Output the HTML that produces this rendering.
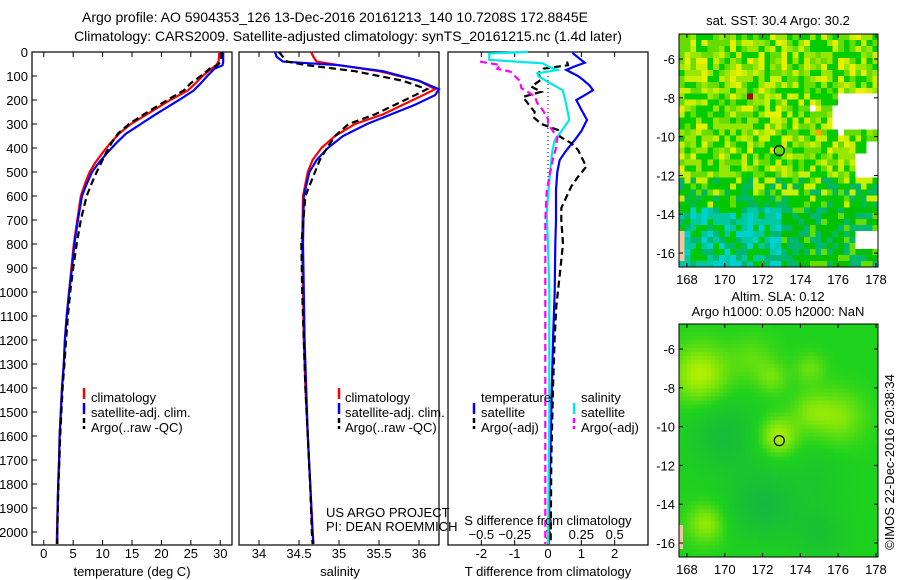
<!DOCTYPE html>
<html><head><meta charset="utf-8">
<style>
html,body{margin:0;padding:0;background:#fff;}
body{width:900px;height:580px;position:relative;overflow:hidden;font-family:"Liberation Sans",Arial,sans-serif;}
canvas{position:absolute;image-rendering:pixelated;}
svg{position:absolute;left:0;top:0;}
text{font-family:"Liberation Sans",Arial,sans-serif;fill:#000;}
</style></head>
<body>
<canvas id="map1" width="35" height="39" style="left:679px;top:34px;width:199px;height:233px"></canvas>
<canvas id="map2" width="50" height="58" style="left:679px;top:324px;width:199px;height:233px"></canvas>
<svg id="chart" width="900" height="580" xmlns="http://www.w3.org/2000/svg"></svg>
<script>
// ---- temperature profile data ----
const tDepth = [0,20,40,55,70,100,130,160,200,230,260,300,340,380,420,460,500,550,600,700,800,900,1000,1100,1200,1300,1400,1500,1600,1700,1800,1900,2000,2050];
const tClim  = [29.8,29.8,29.7,29.3,28.5,27.0,25.8,24.5,21.5,19.5,17.5,14.8,12.8,11.3,10.0,8.8,7.8,7.0,6.3,5.7,5.1,4.7,4.3,3.9,3.6,3.4,3.1,2.9,2.7,2.6,2.45,2.35,2.25,2.2];
const tSat   = [30.5,30.5,30.5,30.4,29.0,27.8,26.7,25.5,23.0,21.0,19.0,16.5,14.0,12.3,10.8,9.4,8.2,7.3,6.5,5.8,5.2,4.8,4.3,3.9,3.6,3.4,3.1,2.9,2.7,2.6,2.45,2.35,2.3,2.3];
const tArgo  = [30.2,30.2,30.1,29.5,28.2,26.7,25.0,23.8,21.0,19.0,17.0,14.5,12.6,11.5,10.6,9.8,9.0,8.1,7.3,6.3,5.6,5.0,4.5,4.1,3.8,3.5,3.2,3.0,2.8,2.65,2.5,2.4,2.3,2.3];
// ---- salinity profile data ----
const sDepth = [0,20,40,55,80,120,155,180,220,260,300,350,400,450,500,600,800,1000,1200,1400,1600,1800,2000,2050];
const sClim  = [34.65,34.68,34.72,35.0,35.5,36.0,36.2,36.05,35.8,35.55,35.2,34.95,34.78,34.67,34.61,34.55,34.54,34.55,34.56,34.58,34.61,34.64,34.67,34.68];
const sSat   = [34.2,34.22,34.3,35.0,35.55,36.0,36.25,36.2,35.95,35.65,35.35,35.05,34.86,34.72,34.63,34.56,34.55,34.56,34.57,34.59,34.61,34.64,34.67,34.68];
const sArgo  = [34.25,34.3,34.35,34.6,35.2,35.8,36.1,35.95,35.7,35.45,35.12,34.95,34.85,34.76,34.7,34.58,34.53,34.54,34.56,34.58,34.61,34.64,34.66,34.67];
// ---- difference panel data ----
const dTSatDepth = [0,6,45,60,75,100,116,140,159,180,200,240,283,330,367,410,450,500,575,700,800,1000,1200,1500,1800,2050];
const dTSat      = [0.75,0.75,1.1,0.8,0.55,0.9,1.05,1.25,1.35,1.1,0.85,1.0,1.17,1.0,0.8,0.55,0.35,0.28,0.24,0.24,0.22,0.2,0.15,0.1,0.05,0.02];
const dSSatDepth = [0,6,20,33,47,60,75,89,102,125,159,200,283,330,367,420,505,600,672,800,1000,1500,2050];
const dSSat      = [-0.15,-0.44,-0.44,-0.44,-0.04,0.0,0.07,-0.08,-0.07,0.0,0.11,0.13,0.16,0.1,0.05,0.03,0.015,0.0,-0.01,0.0,0.01,0.01,0.0];
const dTArgoDepth = [40,55,69,89,115,144,166,187,215,250,270,300,325,352,380,408,450,478,520,560,620,650,700,800,930,1060,1190,1400,1700,2050];
const dTArgo      = [0.57,0.6,-0.13,-0.3,-0.2,-0.5,-0.2,-0.75,-0.6,-0.4,-0.45,-0.2,0.3,0.35,0.7,0.9,1.05,1.15,0.9,0.7,0.5,0.4,0.4,0.45,0.35,0.25,0.2,0.15,0.1,0.08];
const dSArgoDepth = [40,54,70,82,100,121,150,184,213,242,280,300,340,357,400,440,506,580,700,900,1200,1600,2050];
const dSArgo      = [-0.51,-0.36,-0.38,-0.28,-0.25,-0.21,-0.2,-0.1,-0.08,-0.04,0,0.0,0.05,0.07,0.06,0.04,0.015,-0.01,-0.02,-0.02,-0.02,-0.02,-0.02];
// ---- tick labels ----
const depthTicks = [0,100,200,300,400,500,600,700,800,900,1000,1100,1200,1300,1400,1500,1600,1700,1800,1900,2000];
const tempTicks = [0,5,10,15,20,25,30];
const salTicks = [34,34.5,35,35.5,36];
const tDiffTicks = [-2,-1,0,1,2];
const sDiffTicks = [-0.5,-0.25,0,0.25,0.5];
const lonTicks = [168,170,172,174,176,178];
const latTicks = [-6,-8,-10,-12,-14,-16];
const argoLon = 172.8845, argoLat = -10.7208;

const NS = "http://www.w3.org/2000/svg";
const svg = document.getElementById('chart');
function mk(tag, attrs, parent){
  const e = document.createElementNS(NS, tag);
  for (const k in attrs) e.setAttribute(k, attrs[k]);
  (parent||svg).appendChild(e);
  return e;
}
function txt(x,y,s,anchor,size){
  const t = mk('text',{x:x,y:y,'text-anchor':anchor||'start','font-size':size||13});
  t.textContent = s;
  return t;
}
const TOP=52, BOT=545;
const yD = d => TOP + d*0.24;
const xT = t => 32 + (t+2)*200/34;
const xS = s => 239 + (s-33.75)*80;
const xD = v => 448 + (v+3)*200/6;
const xDS = s => xD(s*4);
const mLon = lon => 679 + (lon-167.58)*18.9;
const mLat1 = lat => 34 + (-4.71-lat)*19.4;
const mLat2 = lat => 324 + (-4.71-lat)*19.4;

function poly(xs, ds, fx, color, dash, name){
  const pts = xs.map((v,i)=> fx(v).toFixed(1)+','+yD(ds[i]).toFixed(1)).join(' ');
  const p = mk('polyline',{points:pts,fill:'none',stroke:color,'stroke-width':2.2});
  if (dash) p.setAttribute('stroke-dasharray', dash);
  
  
  return p;
}
function box(x0,x1,name){
  const r = mk('rect',{x:x0,y:TOP,width:x1-x0,height:BOT-TOP,fill:'none',stroke:'#000','stroke-width':1.2});
  
  
}
function xticks(vals, fx, labels, ly){
  vals.forEach((v,i)=>{
    const x = fx(v);
    mk('line',{x1:x,x2:x,y1:TOP,y2:TOP+5,stroke:'#000'});
    mk('line',{x1:x,x2:x,y1:BOT,y2:BOT-5,stroke:'#000'});
    if (labels){
      const t = txt(x, ly, labels[i], 'middle');
      
      
    }
  });
}
function legendBar(x,y,color,dash){
  const l = mk('line',{x1:x,x2:x,y1:y-10,y2:y+1,stroke:color,'stroke-width':2.5});
  if (dash) l.setAttribute('stroke-dasharray','5,3');
  
  
}

let t1 = txt(335,22,'Argo profile: AO 5904353_126 13-Dec-2016 20161213_140 10.7208S 172.8845E','middle',14);


let t2 = txt(348,41,'Climatology: CARS2009. Satellite-adjusted climatology: synTS_20161215.nc (1.4d later)','middle',14);



// ---- panel 1: temperature ----
box(32,232,'temperature-panel');
depthTicks.forEach(d=>{
  mk('line',{x1:32,x2:37,y1:yD(d),y2:yD(d),stroke:'#000'});
  const t = txt(28, yD(d)+5, String(d), 'end');
  
  
});
xticks(tempTicks, xT, tempTicks.map(String), 558);
poly(tClim, tDepth, xT, '#ff0000', null, 'temp-climatology-line');
poly(tSat, tDepth, xT, '#0000ff', null, 'temp-satellite-line');
poly(tArgo, tDepth, xT, '#000000', '7,4', 'temp-argo-line');
let xl1 = txt(132,576,'temperature (deg C)','middle',13);


legendBar(84,398,'#ff0000'); txt(91,402,'climatology');
legendBar(84,413,'#0000ff'); txt(91,417,'satellite-adj. clim.');
legendBar(84,428,'#000',1); txt(91,432,'Argo(..raw -QC)');

// ---- panel 2: salinity ----
box(239,439,'salinity-panel');
xticks(salTicks, xS, salTicks.map(String), 558);
poly(sClim, sDepth, xS, '#ff0000', null, 'sal-climatology-line');
poly(sSat, sDepth, xS, '#0000ff', null, 'sal-satellite-line');
poly(sArgo, sDepth, xS, '#000000', '7,4', 'sal-argo-line');
let xl2 = txt(340,576,'salinity','middle',13);


legendBar(339,398,'#ff0000'); txt(345,402,'climatology');
legendBar(339,413,'#0000ff'); txt(345,417,'satellite-adj. clim.');
legendBar(339,428,'#000',1); txt(345,432,'Argo(..raw -QC)');
let cr1 = txt(326,517,'US ARGO PROJECT');  
let cr2 = txt(326,531,'PI: DEAN ROEMMICH');  

// ---- panel 3: differences ----
box(448,648,'difference-panel');
xticks(tDiffTicks, xD, tDiffTicks.map(String), 558);
sDiffTicks.forEach(s=>{
  const t = txt(xDS(s), 539, String(s).replace('-','\u2212'), 'middle');
  
  
});
mk('line',{x1:xD(0),x2:xD(0),y1:yD(100),y2:yD(650),stroke:'#000','stroke-dasharray':'1,3'});
poly(dTSat, dTSatDepth, xD, '#0000ff', null, 'tdiff-satellite-line');
poly(dTArgo, dTArgoDepth, xD, '#000000', '7,4', 'tdiff-argo-line');
poly(dSSat, dSSatDepth, xDS, '#00e8e8', null, 'sdiff-satellite-line');
poly(dSArgo, dSArgoDepth, xDS, '#ff00ff', '7,4', 'sdiff-argo-line');
let sdt = txt(548,525,'S difference from climatology','middle',13);
 
let tdt = txt(548,576,'T difference from climatology','middle',13);
 
txt(481,402,'temperature');
legendBar(474,413,'#0000ff'); txt(481,417,'satellite');
legendBar(474,428,'#000',1); txt(481,432,'Argo(-adj)');
txt(581,402,'salinity');
legendBar(574,413,'#00e8e8'); txt(581,417,'satellite');
legendBar(574,428,'#ff00ff',1); txt(581,432,'Argo(-adj)');

// ---- maps ----
function mapAxes(yTop, fy, name){
  const r = mk('rect',{x:679,y:yTop,width:199,height:233,fill:'none',stroke:'#000','stroke-width':1});
  
  
  lonTicks.forEach(l=>{
    const x = mLon(l);
    mk('line',{x1:x,x2:x,y1:yTop,y2:yTop+4,stroke:'#000'});
    mk('line',{x1:x,x2:x,y1:yTop+233,y2:yTop+229,stroke:'#000'});
    const t = txt(x, yTop+250, String(l), 'middle');
     
  });
  latTicks.forEach(l=>{
    const y = fy(l);
    mk('line',{x1:679,x2:683,y1:y,y2:y,stroke:'#000'});
    mk('line',{x1:878,x2:874,y1:y,y2:y,stroke:'#000'});
    const t = txt(675, y+5, String(l), 'end');
     
  });
  const c = mk('circle',{cx:mLon(argoLon),cy:fy(argoLat),r:5,fill:'none',stroke:'#000','stroke-width':1.2});
  
  
}
mapAxes(34, mLat1, 'sst-map-frame');
let mt1 = txt(778,25,'sat. SST: 30.4 Argo: 30.2','middle');
 
mapAxes(324, mLat2, 'sla-map-frame');
let mt2 = txt(778,301,'Altim. SLA: 0.12','middle');
 
let mt3 = txt(778,316,'Argo h1000: 0.05 h2000: NaN','middle');
 
let stamp = mk('text',{x:0,y:0,'font-size':13,'text-anchor':'middle',transform:'translate(894,462) rotate(-90)'});
stamp.textContent = '\u00A9IMOS 22-Dec-2016 20:38:34';



// SST map texture
(function(){
  const c = document.getElementById('map1'), g = c.getContext('2d');
  function h(i,j){ let n = (i*374761393 + j*668265263) ^ 0x5bd1e995; n = (n ^ (n>>>13))*1274126177; return ((n ^ (n>>>16))>>>0)/4294967296; }
  for (let j=0;j<39;j++) for (let i=0;i<35;i++){
    const lon = 167.58 + (i+0.5)*10.52/35, lat = -4.71 - (j+0.5)*12.01/39;
    const r = h(i,j);
    let col;
    if (lat > -12) {
      col = r<0.3?'#00cc00': r<0.55?'#66dd00': r<0.75?'#99e600': r<0.9?'#ccee00':'#e6f000';
    } else if (lat > -13.5) {
      col = r<0.45?'#00c800': r<0.7?'#00b860': r<0.85?'#66dd00':'#ccee00';
    } else {
      const teal = lon<173;
      col = teal ? (r<0.35?'#00c8a0': r<0.6?'#00b870': r<0.8?'#00d0d0':'#00c800') : (r<0.5?'#00c000': r<0.8?'#00b870':'#66dd00');
    }
    g.fillStyle = col; g.fillRect(i,j,1,1);
  }
  g.fillStyle='#ffffff';
  function wb(lo0,lo1,la0,la1){ const x0=(lo0-167.58)*35/10.52,x1=(lo1-167.58)*35/10.52,y0=(-4.71-la0)*39/12.01,y1=(-4.71-la1)*39/12.01; g.fillRect(Math.round(x0),Math.round(y0),Math.round(x1-x0),Math.round(y1-y0)); }
  wb(176.0,178.2,-7.9,-9.8); wb(175.6,176.2,-8.4,-9.8); wb(177.0,178.2,-10.2,-12.2); wb(176.9,178.2,-14.9,-15.7); wb(174.4,174.8,-8.5,-8.9);
  g.fillStyle='#00cc00'; wb(175.4,176.0,-9.6,-10.3); wb(176.9,177.5,-10.3,-10.9);
  g.fillStyle='#aa0000'; wb(171.2,171.6,-7.8,-8.1);
  g.fillStyle='#f0a800'; wb(174.9,175.3,-9.5,-9.8);
  g.fillStyle='#f0c8a0'; wb(167.58,167.9,-15.0,-16.6);
})();
// SLA map texture
(function(){
  const c = document.getElementById('map2'), g = c.getContext('2d');
  const blobs = [[168.7,-7.3,1.5,1],[172.8,-10.5,1.0,1],[176,-9.5,1.4,0.7],[174.5,-9.2,1.0,0.5],[169,-15,1.0,0.8],[171.5,-6.5,1.2,0.4],[172.5,-7.5,0.8,0.5],[174.5,-7,0.8,0.5],[170,-10.5,1.8,-0.7],[172,-14,1.8,-0.8],[175,-15.5,1.5,-0.5],[175,-12.5,1.5,-0.3]];
  for (let j=0;j<58;j++) for (let i=0;i<50;i++){
    const lon = 167.58 + (i+0.5)*10.52/50, lat = -4.71 - (j+0.5)*12.01/58;
    let v = 0;
    blobs.forEach(b=>{ const d2=((lon-b[0])**2+(lat-b[1])**2)/(b[2]*b[2]); v += b[3]*Math.exp(-d2); });
    v = Math.max(-1, Math.min(1, v));
    let r,gg,bb;
    if (v>=0){ r=30+150*v; gg=210+30*v; bb=30-30*v; } else { r=30-10*(-v); gg=210-30*(-v); bb=30+40*(-v); }
    g.fillStyle = 'rgb('+(r|0)+','+(gg|0)+','+(bb|0)+')'; g.fillRect(i,j,1,1);
  }
  g.fillStyle='#f0c8a0'; g.fillRect(0,50,1,6);
})();
</script>
</body></html>
